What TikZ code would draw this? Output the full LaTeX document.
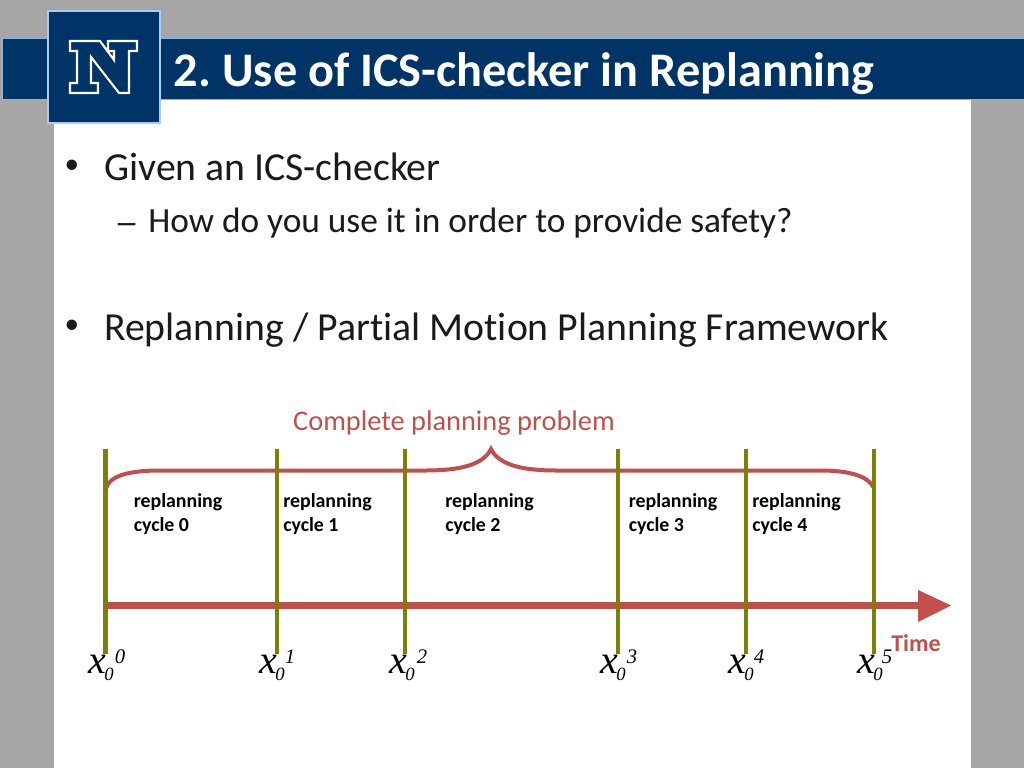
\documentclass[tikz,border=0pt]{standalone}
\usepackage{fontspec}
\setmainfont[Ligatures=NoCommon]{Carlito}
\newfontfamily\mathish{Liberation Serif}
\definecolor{navy}{HTML}{003366}
\definecolor{barEdge}{HTML}{8DB3E2}
\definecolor{slideGrey}{HTML}{A6A6A6}
\definecolor{accent}{HTML}{C0504D}
\definecolor{oliveLine}{HTML}{7F7F00}
\definecolor{bodyText}{HTML}{1A1A1A}
\tikzset{
  tick/.style={draw=oliveLine,line width=3.3pt},
  body/.style={anchor=base west,inner sep=0pt,text=bodyText},
  bulletmark/.style={anchor=center,inner sep=0pt,text=bodyText,font=\fontsize{22}{22}\selectfont},
  cyc/.style={anchor=north west,inner sep=0pt,align=left,font=\fontsize{14.9}{18}\selectfont\bfseries,text=black},
  xlab/.style={inner sep=0pt,text=black,font=\mathish\itshape\fontsize{30}{30}\selectfont},
  supl/.style={inner sep=0pt,text=black,font=\mathish\itshape\fontsize{15.5}{16}\selectfont},
  subl/.style={inner sep=0pt,text=black,font=\mathish\itshape\fontsize{14}{16}\selectfont},
}
\begin{document}
\begin{tikzpicture}[x=0.75pt,y=-0.75pt]
\useasboundingbox (0,0) rectangle (1024,768);
\fill[slideGrey] (0,0) rectangle (1024,768);
\fill[white] (54,100) rectangle (971,768);
\fill[navy,draw=barEdge,line width=0.5pt] (2,38) rectangle (1026,99);
\fill[navy,draw=barEdge!70!white,line width=1pt] (48,11) rectangle (160,123);
\draw[white,fill=navy,line width=1.6pt,miter limit=10]
  (70,41) -- (100,41) -- (114,60) -- (114,51) -- (108,51) -- (108,41) -- (137,41) -- (137,51) -- (129,51) -- (129,93) -- (119,93) -- (91,57) -- (91,83) -- (98,83) -- (98,93) -- (70,93) -- (70,83) -- (77,83) -- (77,51) -- (70,51) -- cycle;
\node[anchor=base west,inner sep=0pt,text=white,font=\fontsize{36.2}{36}\selectfont\bfseries] (title) at (173.5,86) {2.\kern-2.5pt{} Use of ICS-checker in Replanning};
\node[bulletmark] (b0) at (72,167) {•};
\node[body,font=\fontsize{29.8}{30}\selectfont] (b1) at (104,180) {Given an ICS-checker};
\node[body,font=\fontsize{26.5}{27}\selectfont] (b2) at (114,234) {\scalebox{1.4}[1]{–}};
\node[body,font=\fontsize{26.5}{27}\selectfont] (b3) at (148,232.5) {How do you use it in order to provide safety?};
\node[bulletmark] (b4) at (72,327) {•};
\node[body,font=\fontsize{29.8}{30}\selectfont] (b5) at (104,340) {Replanning / Partial Motion Planning Framework};
\node[anchor=base,inner sep=0pt,text=accent,font=\fontsize{21.3}{22}\selectfont] (cp) at (454,430) {Complete planning problem};
\foreach \n/\x in {0/105.5,1/277,2/405,3/618,4/746,5/874}{
  \coordinate (t\n) at (\x,449);
  \coordinate (u\n) at (\x,653.5);
}
\coordinate (bl) at (106,488);
\coordinate (bm) at (491,449);
\coordinate (br) at (874,488);
\draw[accent,line width=3pt] (bl) .. controls (110,476) and (128,470.5) .. (160,470.5) -- (425,470.5) .. controls (460,470.5) and (483,465) .. (bm) .. controls (499,465) and (522,470.5) .. (557,470.5) -- (820,470.5) .. controls (850,470.5) and (868,476) .. (br);
\coordinate (as) at (107,605.5);
\coordinate (ae) at (951,605.5);
\fill[accent] (as |- 0,602) rectangle (919,609);
\fill[accent] (918,590) -- (ae) -- (918,622) -- cycle;
\foreach \n in {0,...,5}{\draw[tick] (t\n) -- (u\n);}
\node[cyc] (c0) at (133.5,493) {replanning\\cycle 0};
\node[cyc] (c1) at (283,493) {replanning\\cycle 1};
\node[cyc] (c2) at (445,493) {replanning\\cycle 2};
\node[cyc] (c3) at (628.5,493) {replanning\\cycle 3};
\node[cyc] (c4) at (752,493) {replanning\\cycle 4};
\node[anchor=base west,inner sep=0pt,text=accent,font=\fontsize{18}{18}\selectfont\bfseries] (tm) at (891,651) {Time};
\foreach \n/\x/\sx in {0/97/120,1/268/290,2/398/422,3/609/632,4/737/759,5/866/887}{
  \node[xlab,anchor=base] (x\n) at (\x,673) {x};
  \node[subl,anchor=base] (s\n) at (\x+12,680) {0};
  \node[supl,anchor=base] (p\n) at (\sx,663) {\n};
}
\end{tikzpicture}
\end{document}
